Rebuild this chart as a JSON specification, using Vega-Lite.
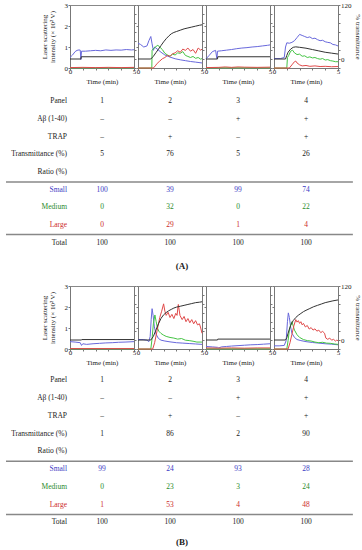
{
"$schema": "https://vega.github.io/schema/vega-lite/v6.json",
"padding": {"left": 5, "top": 0, "right": 2, "bottom": 0},
"columns": 4,
"spacing": {"row": 16, "column": 4},
"bounds": "flush",
"config": {
  "font": "Liberation Serif",
  "view": {"stroke": null},
  "axis": {"grid": false, "labelFont": "Liberation Serif", "titleFont": "Liberation Serif", "labelFontSize": 7, "titleFontSize": 7, "titleFontWeight": "normal", "labelColor": "#222", "titleColor": "#222", "domainColor": "#777", "tickColor": "#777", "tickSize": 2},
  "text": {"font": "Liberation Serif", "fontSize": 7.5}
},
"datasets": {
"lbl": [{"r":0,"l":"Panel","g":"k"},{"r":1,"l":"Aβ (1-40)","g":"k"},{"r":2,"l":"TRAP","g":"k"},{"r":3,"l":"Transmittance (%)","g":"k"},{"r":4,"l":"Ratio (%)","g":"k"},{"r":5,"l":"Small","g":"Small"},{"r":6,"l":"Medium","g":"Medium"},{"r":7,"l":"Large","g":"Large"},{"r":8,"l":"Total","g":"k"}],
"tbl": [
{"b":"A","r":0,"p":1,"v":"1","g":"k"},{"b":"A","r":0,"p":2,"v":"2","g":"k"},{"b":"A","r":0,"p":3,"v":"3","g":"k"},{"b":"A","r":0,"p":4,"v":"4","g":"k"},
{"b":"A","r":1,"p":1,"v":"–","g":"k"},{"b":"A","r":1,"p":2,"v":"–","g":"k"},{"b":"A","r":1,"p":3,"v":"+","g":"k"},{"b":"A","r":1,"p":4,"v":"+","g":"k"},
{"b":"A","r":2,"p":1,"v":"–","g":"k"},{"b":"A","r":2,"p":2,"v":"+","g":"k"},{"b":"A","r":2,"p":3,"v":"–","g":"k"},{"b":"A","r":2,"p":4,"v":"+","g":"k"},
{"b":"A","r":3,"p":1,"v":"5","g":"k"},{"b":"A","r":3,"p":2,"v":"76","g":"k"},{"b":"A","r":3,"p":3,"v":"5","g":"k"},{"b":"A","r":3,"p":4,"v":"26","g":"k"},
{"b":"A","r":5,"p":1,"v":"100","g":"Small"},{"b":"A","r":5,"p":2,"v":"39","g":"Small"},{"b":"A","r":5,"p":3,"v":"99","g":"Small"},{"b":"A","r":5,"p":4,"v":"74","g":"Small"},
{"b":"A","r":6,"p":1,"v":"0","g":"Medium"},{"b":"A","r":6,"p":2,"v":"32","g":"Medium"},{"b":"A","r":6,"p":3,"v":"0","g":"Medium"},{"b":"A","r":6,"p":4,"v":"22","g":"Medium"},
{"b":"A","r":7,"p":1,"v":"0","g":"Large"},{"b":"A","r":7,"p":2,"v":"29","g":"Large"},{"b":"A","r":7,"p":3,"v":"1","g":"Large"},{"b":"A","r":7,"p":4,"v":"4","g":"Large"},
{"b":"A","r":8,"p":1,"v":"100","g":"k"},{"b":"A","r":8,"p":2,"v":"100","g":"k"},{"b":"A","r":8,"p":3,"v":"100","g":"k"},{"b":"A","r":8,"p":4,"v":"100","g":"k"},
{"b":"B","r":0,"p":1,"v":"1","g":"k"},{"b":"B","r":0,"p":2,"v":"2","g":"k"},{"b":"B","r":0,"p":3,"v":"3","g":"k"},{"b":"B","r":0,"p":4,"v":"4","g":"k"},
{"b":"B","r":1,"p":1,"v":"–","g":"k"},{"b":"B","r":1,"p":2,"v":"–","g":"k"},{"b":"B","r":1,"p":3,"v":"+","g":"k"},{"b":"B","r":1,"p":4,"v":"+","g":"k"},
{"b":"B","r":2,"p":1,"v":"–","g":"k"},{"b":"B","r":2,"p":2,"v":"+","g":"k"},{"b":"B","r":2,"p":3,"v":"–","g":"k"},{"b":"B","r":2,"p":4,"v":"+","g":"k"},
{"b":"B","r":3,"p":1,"v":"1","g":"k"},{"b":"B","r":3,"p":2,"v":"86","g":"k"},{"b":"B","r":3,"p":3,"v":"2","g":"k"},{"b":"B","r":3,"p":4,"v":"90","g":"k"},
{"b":"B","r":5,"p":1,"v":"99","g":"Small"},{"b":"B","r":5,"p":2,"v":"24","g":"Small"},{"b":"B","r":5,"p":3,"v":"93","g":"Small"},{"b":"B","r":5,"p":4,"v":"28","g":"Small"},
{"b":"B","r":6,"p":1,"v":"0","g":"Medium"},{"b":"B","r":6,"p":2,"v":"23","g":"Medium"},{"b":"B","r":6,"p":3,"v":"3","g":"Medium"},{"b":"B","r":6,"p":4,"v":"24","g":"Medium"},
{"b":"B","r":7,"p":1,"v":"1","g":"Large"},{"b":"B","r":7,"p":2,"v":"53","g":"Large"},{"b":"B","r":7,"p":3,"v":"4","g":"Large"},{"b":"B","r":7,"p":4,"v":"48","g":"Large"},
{"b":"B","r":8,"p":1,"v":"100","g":"k"},{"b":"B","r":8,"p":2,"v":"100","g":"k"},{"b":"B","r":8,"p":3,"v":"100","g":"k"},{"b":"B","r":8,"p":4,"v":"100","g":"k"}
],
"trans": [
{"b":"A","p":1,"t":0,"v":0},{"b":"A","p":1,"t":0.85,"v":0},{"b":"A","p":1,"t":0.88,"v":5},{"b":"A","p":1,"t":5,"v":5},
{"b":"A","p":2,"t":0,"v":0},{"b":"A","p":2,"t":1.0,"v":0},{"b":"A","p":2,"t":1.2,"v":6},{"b":"A","p":2,"t":1.4,"v":14},{"b":"A","p":2,"t":1.6,"v":22},{"b":"A","p":2,"t":1.8,"v":30},{"b":"A","p":2,"t":2.0,"v":38},{"b":"A","p":2,"t":2.2,"v":45},{"b":"A","p":2,"t":2.4,"v":51},{"b":"A","p":2,"t":2.6,"v":56},{"b":"A","p":2,"t":2.8,"v":59},{"b":"A","p":2,"t":3.0,"v":61},{"b":"A","p":2,"t":3.3,"v":64},{"b":"A","p":2,"t":3.6,"v":67},{"b":"A","p":2,"t":3.9,"v":69},{"b":"A","p":2,"t":4.2,"v":71},{"b":"A","p":2,"t":4.5,"v":73},{"b":"A","p":2,"t":4.8,"v":75},{"b":"A","p":2,"t":5.0,"v":76},
{"b":"A","p":3,"t":0,"v":0},{"b":"A","p":3,"t":0.9,"v":0},{"b":"A","p":3,"t":0.92,"v":5},{"b":"A","p":3,"t":5,"v":5},
{"b":"A","p":4,"t":0,"v":0},{"b":"A","p":4,"t":0.9,"v":0},{"b":"A","p":4,"t":1.0,"v":8},{"b":"A","p":4,"t":1.1,"v":15},{"b":"A","p":4,"t":1.3,"v":22},{"b":"A","p":4,"t":1.5,"v":26},{"b":"A","p":4,"t":1.7,"v":27},{"b":"A","p":4,"t":2.0,"v":26},{"b":"A","p":4,"t":2.5,"v":24},{"b":"A","p":4,"t":3.0,"v":21},{"b":"A","p":4,"t":3.5,"v":18},{"b":"A","p":4,"t":4.0,"v":15},{"b":"A","p":4,"t":4.5,"v":13},{"b":"A","p":4,"t":5.0,"v":11},
{"b":"B","p":1,"t":0,"v":0},{"b":"B","p":1,"t":0.9,"v":0},{"b":"B","p":1,"t":0.92,"v":1},{"b":"B","p":1,"t":5,"v":1},
{"b":"B","p":2,"t":0,"v":0},{"b":"B","p":2,"t":1.0,"v":0},{"b":"B","p":2,"t":1.2,"v":8},{"b":"B","p":2,"t":1.4,"v":22},{"b":"B","p":2,"t":1.6,"v":36},{"b":"B","p":2,"t":1.8,"v":48},{"b":"B","p":2,"t":2.0,"v":56},{"b":"B","p":2,"t":2.2,"v":61},{"b":"B","p":2,"t":2.4,"v":65},{"b":"B","p":2,"t":2.6,"v":68},{"b":"B","p":2,"t":2.8,"v":71},{"b":"B","p":2,"t":3.0,"v":73},{"b":"B","p":2,"t":3.3,"v":75},{"b":"B","p":2,"t":3.6,"v":77},{"b":"B","p":2,"t":3.9,"v":79},{"b":"B","p":2,"t":4.2,"v":81},{"b":"B","p":2,"t":4.5,"v":83},{"b":"B","p":2,"t":4.8,"v":84},{"b":"B","p":2,"t":5.0,"v":85},
{"b":"B","p":3,"t":0,"v":0},{"b":"B","p":3,"t":0.9,"v":0},{"b":"B","p":3,"t":0.92,"v":2},{"b":"B","p":3,"t":5,"v":2},
{"b":"B","p":4,"t":0,"v":0},{"b":"B","p":4,"t":0.9,"v":0},{"b":"B","p":4,"t":1.0,"v":5},{"b":"B","p":4,"t":1.1,"v":15},{"b":"B","p":4,"t":1.2,"v":24},{"b":"B","p":4,"t":1.3,"v":32},{"b":"B","p":4,"t":1.4,"v":38},{"b":"B","p":4,"t":1.5,"v":43},{"b":"B","p":4,"t":1.7,"v":50},{"b":"B","p":4,"t":1.9,"v":55},{"b":"B","p":4,"t":2.1,"v":59},{"b":"B","p":4,"t":2.3,"v":63},{"b":"B","p":4,"t":2.5,"v":66},{"b":"B","p":4,"t":2.8,"v":70},{"b":"B","p":4,"t":3.1,"v":74},{"b":"B","p":4,"t":3.4,"v":77},{"b":"B","p":4,"t":3.7,"v":80},{"b":"B","p":4,"t":4.0,"v":83},{"b":"B","p":4,"t":4.3,"v":85},{"b":"B","p":4,"t":4.6,"v":87},{"b":"B","p":4,"t":5.0,"v":89}
],
"lines": [
{"b":"A","p":1,"s":"Small","t":0,"v":0.5},{"b":"A","p":1,"s":"Small","t":0.2,"v":0.62},{"b":"A","p":1,"s":"Small","t":0.4,"v":0.78},{"b":"A","p":1,"s":"Small","t":0.55,"v":0.84},{"b":"A","p":1,"s":"Small","t":0.7,"v":0.86},{"b":"A","p":1,"s":"Small","t":0.8,"v":0.85},{"b":"A","p":1,"s":"Small","t":0.85,"v":0.4},{"b":"A","p":1,"s":"Small","t":0.9,"v":0.8},{"b":"A","p":1,"s":"Small","t":1.2,"v":0.8},{"b":"A","p":1,"s":"Small","t":1.6,"v":0.82},{"b":"A","p":1,"s":"Small","t":2.0,"v":0.84},{"b":"A","p":1,"s":"Small","t":2.4,"v":0.82},{"b":"A","p":1,"s":"Small","t":2.8,"v":0.86},{"b":"A","p":1,"s":"Small","t":3.2,"v":0.84},{"b":"A","p":1,"s":"Small","t":3.6,"v":0.86},{"b":"A","p":1,"s":"Small","t":4.0,"v":0.85},{"b":"A","p":1,"s":"Small","t":4.4,"v":0.88},{"b":"A","p":1,"s":"Small","t":4.8,"v":0.86},{"b":"A","p":1,"s":"Small","t":5.0,"v":0.87},
{"b":"A","p":1,"s":"Medium","t":0,"v":0.01},{"b":"A","p":1,"s":"Medium","t":5,"v":0.01},
{"b":"A","p":1,"s":"Large","t":0,"v":0.02},{"b":"A","p":1,"s":"Large","t":1,"v":0.03},{"b":"A","p":1,"s":"Large","t":2,"v":0.02},{"b":"A","p":1,"s":"Large","t":3,"v":0.03},{"b":"A","p":1,"s":"Large","t":4,"v":0.02},{"b":"A","p":1,"s":"Large","t":5,"v":0.03},
{"b":"A","p":2,"s":"Small","t":0,"v":1.18},{"b":"A","p":2,"s":"Small","t":0.2,"v":1.12},{"b":"A","p":2,"s":"Small","t":0.45,"v":1.0},{"b":"A","p":2,"s":"Small","t":0.7,"v":1.05},{"b":"A","p":2,"s":"Small","t":0.85,"v":1.3},{"b":"A","p":2,"s":"Small","t":1.0,"v":1.5},{"b":"A","p":2,"s":"Small","t":1.1,"v":1.15},{"b":"A","p":2,"s":"Small","t":1.2,"v":0.84},{"b":"A","p":2,"s":"Small","t":1.3,"v":1.0},{"b":"A","p":2,"s":"Small","t":1.5,"v":0.9},{"b":"A","p":2,"s":"Small","t":1.8,"v":0.75},{"b":"A","p":2,"s":"Small","t":2.1,"v":0.62},{"b":"A","p":2,"s":"Small","t":2.5,"v":0.52},{"b":"A","p":2,"s":"Small","t":2.9,"v":0.44},{"b":"A","p":2,"s":"Small","t":3.3,"v":0.39},{"b":"A","p":2,"s":"Small","t":3.7,"v":0.35},{"b":"A","p":2,"s":"Small","t":4.1,"v":0.31},{"b":"A","p":2,"s":"Small","t":4.5,"v":0.28},{"b":"A","p":2,"s":"Small","t":5.0,"v":0.24},
{"b":"A","p":2,"s":"Medium","t":0,"v":0},{"b":"A","p":2,"s":"Medium","t":1.08,"v":0},{"b":"A","p":2,"s":"Medium","t":1.1,"v":0.85},{"b":"A","p":2,"s":"Medium","t":1.25,"v":0.95},{"b":"A","p":2,"s":"Medium","t":1.4,"v":1.02},{"b":"A","p":2,"s":"Medium","t":1.55,"v":1.08},{"b":"A","p":2,"s":"Medium","t":1.7,"v":1.0},{"b":"A","p":2,"s":"Medium","t":1.9,"v":0.88},{"b":"A","p":2,"s":"Medium","t":2.1,"v":0.7},{"b":"A","p":2,"s":"Medium","t":2.3,"v":0.62},{"b":"A","p":2,"s":"Medium","t":2.5,"v":0.56},{"b":"A","p":2,"s":"Medium","t":2.7,"v":0.66},{"b":"A","p":2,"s":"Medium","t":2.9,"v":0.62},{"b":"A","p":2,"s":"Medium","t":3.1,"v":0.72},{"b":"A","p":2,"s":"Medium","t":3.3,"v":0.7},{"b":"A","p":2,"s":"Medium","t":3.5,"v":0.78},{"b":"A","p":2,"s":"Medium","t":3.7,"v":0.6},{"b":"A","p":2,"s":"Medium","t":3.9,"v":0.55},{"b":"A","p":2,"s":"Medium","t":4.1,"v":0.5},{"b":"A","p":2,"s":"Medium","t":4.3,"v":0.55},{"b":"A","p":2,"s":"Medium","t":4.5,"v":0.46},{"b":"A","p":2,"s":"Medium","t":4.7,"v":0.5},{"b":"A","p":2,"s":"Medium","t":4.9,"v":0.42},{"b":"A","p":2,"s":"Medium","t":5.0,"v":0.45},
{"b":"A","p":2,"s":"Large","t":0,"v":0},{"b":"A","p":2,"s":"Large","t":1.2,"v":0},{"b":"A","p":2,"s":"Large","t":1.35,"v":0.1},{"b":"A","p":2,"s":"Large","t":1.5,"v":0.22},{"b":"A","p":2,"s":"Large","t":1.7,"v":0.33},{"b":"A","p":2,"s":"Large","t":1.9,"v":0.44},{"b":"A","p":2,"s":"Large","t":2.1,"v":0.5},{"b":"A","p":2,"s":"Large","t":2.3,"v":0.6},{"b":"A","p":2,"s":"Large","t":2.5,"v":0.55},{"b":"A","p":2,"s":"Large","t":2.7,"v":0.68},{"b":"A","p":2,"s":"Large","t":2.9,"v":0.72},{"b":"A","p":2,"s":"Large","t":3.1,"v":0.82},{"b":"A","p":2,"s":"Large","t":3.3,"v":0.75},{"b":"A","p":2,"s":"Large","t":3.5,"v":0.9},{"b":"A","p":2,"s":"Large","t":3.7,"v":0.84},{"b":"A","p":2,"s":"Large","t":3.9,"v":0.95},{"b":"A","p":2,"s":"Large","t":4.1,"v":0.8},{"b":"A","p":2,"s":"Large","t":4.3,"v":0.88},{"b":"A","p":2,"s":"Large","t":4.5,"v":0.7},{"b":"A","p":2,"s":"Large","t":4.7,"v":0.95},{"b":"A","p":2,"s":"Large","t":4.9,"v":0.85},{"b":"A","p":2,"s":"Large","t":5.0,"v":0.9},
{"b":"A","p":3,"s":"Small","t":0,"v":0.44},{"b":"A","p":3,"s":"Small","t":0.25,"v":0.6},{"b":"A","p":3,"s":"Small","t":0.5,"v":0.78},{"b":"A","p":3,"s":"Small","t":0.75,"v":0.84},{"b":"A","p":3,"s":"Small","t":0.85,"v":0.44},{"b":"A","p":3,"s":"Small","t":0.9,"v":0.8},{"b":"A","p":3,"s":"Small","t":1.2,"v":0.82},{"b":"A","p":3,"s":"Small","t":1.6,"v":0.85},{"b":"A","p":3,"s":"Small","t":2.0,"v":0.88},{"b":"A","p":3,"s":"Small","t":2.4,"v":0.92},{"b":"A","p":3,"s":"Small","t":2.8,"v":0.95},{"b":"A","p":3,"s":"Small","t":3.2,"v":0.97},{"b":"A","p":3,"s":"Small","t":3.6,"v":1.0},{"b":"A","p":3,"s":"Small","t":4.0,"v":1.02},{"b":"A","p":3,"s":"Small","t":4.4,"v":1.05},{"b":"A","p":3,"s":"Small","t":4.8,"v":1.08},{"b":"A","p":3,"s":"Small","t":5.0,"v":1.1},
{"b":"A","p":3,"s":"Medium","t":0,"v":0.01},{"b":"A","p":3,"s":"Medium","t":5,"v":0.01},
{"b":"A","p":3,"s":"Large","t":0,"v":0.02},{"b":"A","p":3,"s":"Large","t":1,"v":0.03},{"b":"A","p":3,"s":"Large","t":1.5,"v":0.05},{"b":"A","p":3,"s":"Large","t":2,"v":0.03},{"b":"A","p":3,"s":"Large","t":2.5,"v":0.05},{"b":"A","p":3,"s":"Large","t":3,"v":0.04},{"b":"A","p":3,"s":"Large","t":4,"v":0.03},{"b":"A","p":3,"s":"Large","t":5,"v":0.04},
{"b":"A","p":4,"s":"Small","t":0,"v":0.45},{"b":"A","p":4,"s":"Small","t":0.5,"v":0.45},{"b":"A","p":4,"s":"Small","t":0.8,"v":0.5},{"b":"A","p":4,"s":"Small","t":0.9,"v":1.0},{"b":"A","p":4,"s":"Small","t":1.0,"v":1.2},{"b":"A","p":4,"s":"Small","t":1.2,"v":1.18},{"b":"A","p":4,"s":"Small","t":1.4,"v":1.22},{"b":"A","p":4,"s":"Small","t":1.6,"v":1.3},{"b":"A","p":4,"s":"Small","t":1.8,"v":1.45},{"b":"A","p":4,"s":"Small","t":2.0,"v":1.6},{"b":"A","p":4,"s":"Small","t":2.2,"v":1.55},{"b":"A","p":4,"s":"Small","t":2.4,"v":1.5},{"b":"A","p":4,"s":"Small","t":2.6,"v":1.45},{"b":"A","p":4,"s":"Small","t":2.8,"v":1.48},{"b":"A","p":4,"s":"Small","t":3.0,"v":1.4},{"b":"A","p":4,"s":"Small","t":3.2,"v":1.42},{"b":"A","p":4,"s":"Small","t":3.4,"v":1.35},{"b":"A","p":4,"s":"Small","t":3.6,"v":1.3},{"b":"A","p":4,"s":"Small","t":3.8,"v":1.32},{"b":"A","p":4,"s":"Small","t":4.0,"v":1.25},{"b":"A","p":4,"s":"Small","t":4.2,"v":1.22},{"b":"A","p":4,"s":"Small","t":4.4,"v":1.2},{"b":"A","p":4,"s":"Small","t":4.6,"v":1.12},{"b":"A","p":4,"s":"Small","t":4.8,"v":1.1},{"b":"A","p":4,"s":"Small","t":5.0,"v":1.05},
{"b":"A","p":4,"s":"Medium","t":0,"v":0},{"b":"A","p":4,"s":"Medium","t":1.0,"v":0},{"b":"A","p":4,"s":"Medium","t":1.05,"v":0.5},{"b":"A","p":4,"s":"Medium","t":1.15,"v":0.6},{"b":"A","p":4,"s":"Medium","t":1.3,"v":0.8},{"b":"A","p":4,"s":"Medium","t":1.45,"v":0.85},{"b":"A","p":4,"s":"Medium","t":1.6,"v":0.72},{"b":"A","p":4,"s":"Medium","t":1.8,"v":0.64},{"b":"A","p":4,"s":"Medium","t":2.0,"v":0.66},{"b":"A","p":4,"s":"Medium","t":2.2,"v":0.56},{"b":"A","p":4,"s":"Medium","t":2.4,"v":0.58},{"b":"A","p":4,"s":"Medium","t":2.6,"v":0.5},{"b":"A","p":4,"s":"Medium","t":2.8,"v":0.53},{"b":"A","p":4,"s":"Medium","t":3.0,"v":0.48},{"b":"A","p":4,"s":"Medium","t":3.2,"v":0.5},{"b":"A","p":4,"s":"Medium","t":3.4,"v":0.45},{"b":"A","p":4,"s":"Medium","t":3.6,"v":0.42},{"b":"A","p":4,"s":"Medium","t":3.8,"v":0.45},{"b":"A","p":4,"s":"Medium","t":4.0,"v":0.38},{"b":"A","p":4,"s":"Medium","t":4.2,"v":0.4},{"b":"A","p":4,"s":"Medium","t":4.4,"v":0.35},{"b":"A","p":4,"s":"Medium","t":4.6,"v":0.33},{"b":"A","p":4,"s":"Medium","t":4.8,"v":0.3},{"b":"A","p":4,"s":"Medium","t":5.0,"v":0.3},
{"b":"A","p":4,"s":"Large","t":0,"v":0},{"b":"A","p":4,"s":"Large","t":1.2,"v":0},{"b":"A","p":4,"s":"Large","t":1.4,"v":0.15},{"b":"A","p":4,"s":"Large","t":1.6,"v":0.3},{"b":"A","p":4,"s":"Large","t":1.7,"v":0.33},{"b":"A","p":4,"s":"Large","t":1.8,"v":0.24},{"b":"A","p":4,"s":"Large","t":2.0,"v":0.15},{"b":"A","p":4,"s":"Large","t":2.2,"v":0.1},{"b":"A","p":4,"s":"Large","t":2.5,"v":0.12},{"b":"A","p":4,"s":"Large","t":2.8,"v":0.08},{"b":"A","p":4,"s":"Large","t":3.2,"v":0.1},{"b":"A","p":4,"s":"Large","t":3.6,"v":0.07},{"b":"A","p":4,"s":"Large","t":4.0,"v":0.08},{"b":"A","p":4,"s":"Large","t":4.5,"v":0.06},{"b":"A","p":4,"s":"Large","t":5.0,"v":0.07},
{"b":"B","p":1,"s":"Small","t":0,"v":0.35},{"b":"B","p":1,"s":"Small","t":0.4,"v":0.33},{"b":"B","p":1,"s":"Small","t":0.8,"v":0.3},{"b":"B","p":1,"s":"Small","t":0.9,"v":0.17},{"b":"B","p":1,"s":"Small","t":1.0,"v":0.25},{"b":"B","p":1,"s":"Small","t":1.3,"v":0.22},{"b":"B","p":1,"s":"Small","t":1.8,"v":0.25},{"b":"B","p":1,"s":"Small","t":2.3,"v":0.27},{"b":"B","p":1,"s":"Small","t":2.8,"v":0.29},{"b":"B","p":1,"s":"Small","t":3.3,"v":0.3},{"b":"B","p":1,"s":"Small","t":3.8,"v":0.32},{"b":"B","p":1,"s":"Small","t":4.3,"v":0.33},{"b":"B","p":1,"s":"Small","t":5.0,"v":0.35},
{"b":"B","p":1,"s":"Medium","t":0,"v":0.01},{"b":"B","p":1,"s":"Medium","t":5,"v":0.01},
{"b":"B","p":1,"s":"Large","t":0,"v":0.02},{"b":"B","p":1,"s":"Large","t":5,"v":0.02},
{"b":"B","p":2,"s":"Small","t":0,"v":0.45},{"b":"B","p":2,"s":"Small","t":0.4,"v":0.45},{"b":"B","p":2,"s":"Small","t":0.7,"v":0.42},{"b":"B","p":2,"s":"Small","t":0.85,"v":0.35},{"b":"B","p":2,"s":"Small","t":0.95,"v":0.6},{"b":"B","p":2,"s":"Small","t":1.03,"v":1.4},{"b":"B","p":2,"s":"Small","t":1.1,"v":1.92},{"b":"B","p":2,"s":"Small","t":1.18,"v":1.6},{"b":"B","p":2,"s":"Small","t":1.28,"v":1.05},{"b":"B","p":2,"s":"Small","t":1.4,"v":0.72},{"b":"B","p":2,"s":"Small","t":1.6,"v":0.5},{"b":"B","p":2,"s":"Small","t":1.8,"v":0.42},{"b":"B","p":2,"s":"Small","t":2.1,"v":0.38},{"b":"B","p":2,"s":"Small","t":2.5,"v":0.34},{"b":"B","p":2,"s":"Small","t":3.0,"v":0.3},{"b":"B","p":2,"s":"Small","t":3.5,"v":0.28},{"b":"B","p":2,"s":"Small","t":4.0,"v":0.26},{"b":"B","p":2,"s":"Small","t":4.5,"v":0.24},{"b":"B","p":2,"s":"Small","t":5.0,"v":0.22},
{"b":"B","p":2,"s":"Medium","t":0,"v":0},{"b":"B","p":2,"s":"Medium","t":1.0,"v":0},{"b":"B","p":2,"s":"Medium","t":1.1,"v":0.5},{"b":"B","p":2,"s":"Medium","t":1.2,"v":1.2},{"b":"B","p":2,"s":"Medium","t":1.32,"v":1.62},{"b":"B","p":2,"s":"Medium","t":1.42,"v":1.3},{"b":"B","p":2,"s":"Medium","t":1.52,"v":1.0},{"b":"B","p":2,"s":"Medium","t":1.62,"v":0.85},{"b":"B","p":2,"s":"Medium","t":1.8,"v":0.74},{"b":"B","p":2,"s":"Medium","t":2.0,"v":0.66},{"b":"B","p":2,"s":"Medium","t":2.2,"v":0.6},{"b":"B","p":2,"s":"Medium","t":2.5,"v":0.55},{"b":"B","p":2,"s":"Medium","t":2.8,"v":0.52},{"b":"B","p":2,"s":"Medium","t":3.1,"v":0.47},{"b":"B","p":2,"s":"Medium","t":3.4,"v":0.5},{"b":"B","p":2,"s":"Medium","t":3.7,"v":0.42},{"b":"B","p":2,"s":"Medium","t":4.0,"v":0.4},{"b":"B","p":2,"s":"Medium","t":4.3,"v":0.37},{"b":"B","p":2,"s":"Medium","t":4.6,"v":0.33},{"b":"B","p":2,"s":"Medium","t":5.0,"v":0.33},
{"b":"B","p":2,"s":"Large","t":0,"v":0},{"b":"B","p":2,"s":"Large","t":1.15,"v":0},{"b":"B","p":2,"s":"Large","t":1.3,"v":0.3},{"b":"B","p":2,"s":"Large","t":1.5,"v":0.9},{"b":"B","p":2,"s":"Large","t":1.7,"v":1.5},{"b":"B","p":2,"s":"Large","t":1.85,"v":1.8},{"b":"B","p":2,"s":"Large","t":2.0,"v":2.15},{"b":"B","p":2,"s":"Large","t":2.1,"v":1.8},{"b":"B","p":2,"s":"Large","t":2.2,"v":1.6},{"b":"B","p":2,"s":"Large","t":2.35,"v":1.75},{"b":"B","p":2,"s":"Large","t":2.5,"v":1.5},{"b":"B","p":2,"s":"Large","t":2.65,"v":1.65},{"b":"B","p":2,"s":"Large","t":2.8,"v":1.45},{"b":"B","p":2,"s":"Large","t":2.95,"v":1.7},{"b":"B","p":2,"s":"Large","t":3.05,"v":1.6},{"b":"B","p":2,"s":"Large","t":3.15,"v":2.12},{"b":"B","p":2,"s":"Large","t":3.28,"v":1.6},{"b":"B","p":2,"s":"Large","t":3.45,"v":1.4},{"b":"B","p":2,"s":"Large","t":3.6,"v":1.55},{"b":"B","p":2,"s":"Large","t":3.75,"v":1.3},{"b":"B","p":2,"s":"Large","t":3.9,"v":1.45},{"b":"B","p":2,"s":"Large","t":4.05,"v":1.25},{"b":"B","p":2,"s":"Large","t":4.2,"v":1.4},{"b":"B","p":2,"s":"Large","t":4.35,"v":1.2},{"b":"B","p":2,"s":"Large","t":4.5,"v":1.35},{"b":"B","p":2,"s":"Large","t":4.65,"v":1.15},{"b":"B","p":2,"s":"Large","t":4.8,"v":1.2},{"b":"B","p":2,"s":"Large","t":4.9,"v":1.0},{"b":"B","p":2,"s":"Large","t":5.0,"v":0.75},
{"b":"B","p":3,"s":"Small","t":0,"v":0.12},{"b":"B","p":3,"s":"Small","t":0.5,"v":0.1},{"b":"B","p":3,"s":"Small","t":0.9,"v":0.08},{"b":"B","p":3,"s":"Small","t":1.0,"v":0.05},{"b":"B","p":3,"s":"Small","t":1.2,"v":0.1},{"b":"B","p":3,"s":"Small","t":1.6,"v":0.12},{"b":"B","p":3,"s":"Small","t":2.0,"v":0.14},{"b":"B","p":3,"s":"Small","t":2.5,"v":0.16},{"b":"B","p":3,"s":"Small","t":3.0,"v":0.18},{"b":"B","p":3,"s":"Small","t":3.5,"v":0.2},{"b":"B","p":3,"s":"Small","t":4.0,"v":0.21},{"b":"B","p":3,"s":"Small","t":4.5,"v":0.23},{"b":"B","p":3,"s":"Small","t":5.0,"v":0.25},
{"b":"B","p":3,"s":"Medium","t":0,"v":0.01},{"b":"B","p":3,"s":"Medium","t":5,"v":0.01},
{"b":"B","p":3,"s":"Large","t":0,"v":0.05},{"b":"B","p":3,"s":"Large","t":1,"v":0.04},{"b":"B","p":3,"s":"Large","t":2,"v":0.05},{"b":"B","p":3,"s":"Large","t":3,"v":0.04},{"b":"B","p":3,"s":"Large","t":4,"v":0.05},{"b":"B","p":3,"s":"Large","t":5,"v":0.05},
{"b":"B","p":4,"s":"Small","t":0,"v":0.15},{"b":"B","p":4,"s":"Small","t":0.4,"v":0.15},{"b":"B","p":4,"s":"Small","t":0.8,"v":0.17},{"b":"B","p":4,"s":"Small","t":0.95,"v":0.4},{"b":"B","p":4,"s":"Small","t":1.05,"v":1.3},{"b":"B","p":4,"s":"Small","t":1.12,"v":1.72},{"b":"B","p":4,"s":"Small","t":1.2,"v":1.5},{"b":"B","p":4,"s":"Small","t":1.3,"v":1.05},{"b":"B","p":4,"s":"Small","t":1.4,"v":0.75},{"b":"B","p":4,"s":"Small","t":1.6,"v":0.55},{"b":"B","p":4,"s":"Small","t":1.8,"v":0.45},{"b":"B","p":4,"s":"Small","t":2.1,"v":0.4},{"b":"B","p":4,"s":"Small","t":2.5,"v":0.35},{"b":"B","p":4,"s":"Small","t":3.0,"v":0.31},{"b":"B","p":4,"s":"Small","t":3.5,"v":0.28},{"b":"B","p":4,"s":"Small","t":4.0,"v":0.25},{"b":"B","p":4,"s":"Small","t":4.5,"v":0.23},{"b":"B","p":4,"s":"Small","t":5.0,"v":0.2},
{"b":"B","p":4,"s":"Medium","t":0,"v":0},{"b":"B","p":4,"s":"Medium","t":1.0,"v":0},{"b":"B","p":4,"s":"Medium","t":1.1,"v":0.4},{"b":"B","p":4,"s":"Medium","t":1.2,"v":0.9},{"b":"B","p":4,"s":"Medium","t":1.3,"v":1.15},{"b":"B","p":4,"s":"Medium","t":1.4,"v":1.3},{"b":"B","p":4,"s":"Medium","t":1.5,"v":1.1},{"b":"B","p":4,"s":"Medium","t":1.6,"v":0.9},{"b":"B","p":4,"s":"Medium","t":1.8,"v":0.68},{"b":"B","p":4,"s":"Medium","t":2.0,"v":0.55},{"b":"B","p":4,"s":"Medium","t":2.3,"v":0.45},{"b":"B","p":4,"s":"Medium","t":2.6,"v":0.4},{"b":"B","p":4,"s":"Medium","t":2.9,"v":0.38},{"b":"B","p":4,"s":"Medium","t":3.2,"v":0.33},{"b":"B","p":4,"s":"Medium","t":3.5,"v":0.3},{"b":"B","p":4,"s":"Medium","t":3.8,"v":0.32},{"b":"B","p":4,"s":"Medium","t":4.1,"v":0.28},{"b":"B","p":4,"s":"Medium","t":4.4,"v":0.27},{"b":"B","p":4,"s":"Medium","t":4.7,"v":0.24},{"b":"B","p":4,"s":"Medium","t":5.0,"v":0.22},
{"b":"B","p":4,"s":"Large","t":0,"v":0},{"b":"B","p":4,"s":"Large","t":1.1,"v":0},{"b":"B","p":4,"s":"Large","t":1.25,"v":0.3},{"b":"B","p":4,"s":"Large","t":1.4,"v":0.7},{"b":"B","p":4,"s":"Large","t":1.55,"v":1.1},{"b":"B","p":4,"s":"Large","t":1.7,"v":1.4},{"b":"B","p":4,"s":"Large","t":1.8,"v":1.28},{"b":"B","p":4,"s":"Large","t":1.9,"v":1.35},{"b":"B","p":4,"s":"Large","t":2.0,"v":1.22},{"b":"B","p":4,"s":"Large","t":2.1,"v":1.3},{"b":"B","p":4,"s":"Large","t":2.2,"v":1.15},{"b":"B","p":4,"s":"Large","t":2.3,"v":1.22},{"b":"B","p":4,"s":"Large","t":2.45,"v":1.05},{"b":"B","p":4,"s":"Large","t":2.6,"v":1.12},{"b":"B","p":4,"s":"Large","t":2.75,"v":0.95},{"b":"B","p":4,"s":"Large","t":2.9,"v":1.02},{"b":"B","p":4,"s":"Large","t":3.05,"v":0.9},{"b":"B","p":4,"s":"Large","t":3.2,"v":0.96},{"b":"B","p":4,"s":"Large","t":3.35,"v":0.85},{"b":"B","p":4,"s":"Large","t":3.5,"v":0.9},{"b":"B","p":4,"s":"Large","t":3.65,"v":0.78},{"b":"B","p":4,"s":"Large","t":3.8,"v":0.84},{"b":"B","p":4,"s":"Large","t":3.95,"v":0.75},{"b":"B","p":4,"s":"Large","t":4.05,"v":0.52},{"b":"B","p":4,"s":"Large","t":4.2,"v":0.46},{"b":"B","p":4,"s":"Large","t":4.35,"v":0.52},{"b":"B","p":4,"s":"Large","t":4.5,"v":0.42},{"b":"B","p":4,"s":"Large","t":4.65,"v":0.46},{"b":"B","p":4,"s":"Large","t":4.8,"v":0.38},{"b":"B","p":4,"s":"Large","t":4.9,"v":0.42},{"b":"B","p":4,"s":"Large","t":5.0,"v":0.4}
]
},
"concat": [
{"width":64,"height":63,"view":{"stroke":"#888"},"layer":[
 {"data":{"name":"lines"},"transform":[{"filter":"datum.b=='A'&&datum.p==1"}],"mark":{"type":"line","strokeWidth":1},
  "encoding":{"x":{"field":"t","type":"quantitative","scale":{"domain":[0,5],"nice":false},"axis":{"title":"Time (min)","values":[0,1,2,3,4,5],"labelExpr":"datum.value==0||datum.value==5?datum.label:''","labelFlush":false,"labelOverlap":false,"labelBaseline":"middle","labelPadding":1.5,"titlePadding":3}},
  "y":{"field":"v","type":"quantitative","scale":{"domain":[0,3],"nice":false},"axis":{"title":["Laser scattering","intensity (× 10² V)"],"values":[0,1,2,3],"labelPadding":0.5,"titlePadding":9,"titleLineHeight":7.5}},
  "color":{"field":"s","type":"nominal","scale":{"domain":["Small","Medium","Large"],"range":["#6868dc","#44c444","#e04a4a"]},"legend":null}}},
 {"data":{"name":"trans"},"transform":[{"filter":"datum.b=='A'&&datum.p==1"}],"mark":{"type":"line","strokeWidth":1,"color":"#333"},
  "encoding":{"x":{"field":"t","type":"quantitative","scale":{"domain":[0,5],"nice":false},"axis":{"title":"Time (min)","values":[0,1,2,3,4,5],"labelExpr":"datum.value==0||datum.value==5?datum.label:''","labelFlush":false,"labelOverlap":false,"labelBaseline":"middle","labelPadding":1.5,"titlePadding":3}},
  "y":{"field":"v","type":"quantitative","scale":{"domain":[-20,120],"nice":false},"axis":{"orient":"right","title":null,"labels":false,"values":[-20,0,20,40,60,80,100,120]}}}}
],"resolve":{"scale":{"y":"independent"}}},
{"width":64,"height":63,"view":{"stroke":"#888"},"layer":[
 {"data":{"name":"lines"},"transform":[{"filter":"datum.b=='A'&&datum.p==2"}],"mark":{"type":"line","strokeWidth":1},
  "encoding":{"x":{"field":"t","type":"quantitative","scale":{"domain":[0,5],"nice":false},"axis":{"title":"Time (min)","values":[0,1,2,3,4,5],"labelExpr":"datum.value==0||datum.value==5?datum.label:''","labelFlush":false,"labelOverlap":false,"labelBaseline":"middle","labelPadding":1.5,"titlePadding":3}},
  "y":{"field":"v","type":"quantitative","scale":{"domain":[0,3],"nice":false},"axis":{"title":null,"labels":false,"values":[0,1,2,3]}},
  "color":{"field":"s","type":"nominal","scale":{"domain":["Small","Medium","Large"],"range":["#6868dc","#44c444","#e04a4a"]},"legend":null}}},
 {"data":{"name":"trans"},"transform":[{"filter":"datum.b=='A'&&datum.p==2"}],"mark":{"type":"line","strokeWidth":1,"color":"#333"},
  "encoding":{"x":{"field":"t","type":"quantitative","scale":{"domain":[0,5],"nice":false},"axis":{"title":"Time (min)","values":[0,1,2,3,4,5],"labelExpr":"datum.value==0||datum.value==5?datum.label:''","labelFlush":false,"labelOverlap":false,"labelBaseline":"middle","labelPadding":1.5,"titlePadding":3}},
  "y":{"field":"v","type":"quantitative","scale":{"domain":[-20,120],"nice":false},"axis":{"orient":"right","title":null,"labels":false,"values":[-20,0,20,40,60,80,100,120]}}}}
],"resolve":{"scale":{"y":"independent"}}},
{"width":64,"height":63,"view":{"stroke":"#888"},"layer":[
 {"data":{"name":"lines"},"transform":[{"filter":"datum.b=='A'&&datum.p==3"}],"mark":{"type":"line","strokeWidth":1},
  "encoding":{"x":{"field":"t","type":"quantitative","scale":{"domain":[0,5],"nice":false},"axis":{"title":"Time (min)","values":[0,1,2,3,4,5],"labelExpr":"datum.value==0||datum.value==5?datum.label:''","labelFlush":false,"labelOverlap":false,"labelBaseline":"middle","labelPadding":1.5,"titlePadding":3}},
  "y":{"field":"v","type":"quantitative","scale":{"domain":[0,3],"nice":false},"axis":{"title":null,"labels":false,"values":[0,1,2,3]}},
  "color":{"field":"s","type":"nominal","scale":{"domain":["Small","Medium","Large"],"range":["#6868dc","#44c444","#e04a4a"]},"legend":null}}},
 {"data":{"name":"trans"},"transform":[{"filter":"datum.b=='A'&&datum.p==3"}],"mark":{"type":"line","strokeWidth":1,"color":"#333"},
  "encoding":{"x":{"field":"t","type":"quantitative","scale":{"domain":[0,5],"nice":false},"axis":{"title":"Time (min)","values":[0,1,2,3,4,5],"labelExpr":"datum.value==0||datum.value==5?datum.label:''","labelFlush":false,"labelOverlap":false,"labelBaseline":"middle","labelPadding":1.5,"titlePadding":3}},
  "y":{"field":"v","type":"quantitative","scale":{"domain":[-20,120],"nice":false},"axis":{"orient":"right","title":null,"labels":false,"values":[-20,0,20,40,60,80,100,120]}}}}
],"resolve":{"scale":{"y":"independent"}}},
{"width":64,"height":63,"view":{"stroke":"#888"},"layer":[
 {"data":{"name":"lines"},"transform":[{"filter":"datum.b=='A'&&datum.p==4"}],"mark":{"type":"line","strokeWidth":1},
  "encoding":{"x":{"field":"t","type":"quantitative","scale":{"domain":[0,5],"nice":false},"axis":{"title":"Time (min)","values":[0,1,2,3,4,5],"labelExpr":"datum.value==0||datum.value==5?datum.label:''","labelFlush":false,"labelOverlap":false,"labelBaseline":"middle","labelPadding":1.5,"titlePadding":3}},
  "y":{"field":"v","type":"quantitative","scale":{"domain":[0,3],"nice":false},"axis":{"title":null,"labels":false,"values":[0,1,2,3]}},
  "color":{"field":"s","type":"nominal","scale":{"domain":["Small","Medium","Large"],"range":["#6868dc","#44c444","#e04a4a"]},"legend":null}}},
 {"data":{"name":"trans"},"transform":[{"filter":"datum.b=='A'&&datum.p==4"}],"mark":{"type":"line","strokeWidth":1,"color":"#333"},
  "encoding":{"x":{"field":"t","type":"quantitative","scale":{"domain":[0,5],"nice":false},"axis":{"title":"Time (min)","values":[0,1,2,3,4,5],"labelExpr":"datum.value==0||datum.value==5?datum.label:''","labelFlush":false,"labelOverlap":false,"labelBaseline":"middle","labelPadding":1.5,"titlePadding":3}},
  "y":{"field":"v","type":"quantitative","scale":{"domain":[-20,120],"nice":false},"axis":{"orient":"right","title":"% transmittance","values":[-20,0,20,40,60,80,100,120],"labelExpr":"datum.value==0||datum.value==120?datum.label:''","labelOverlap":false,"labelPadding":0.5,"titlePadding":3}}}}
],"resolve":{"scale":{"y":"independent"}}},
{"width":64,"height":186,"view":{"stroke":null},"layer":[
 {"data":{"name":"tbl"},"transform":[{"filter":"datum.b=='A'&&datum.p==1"}],"mark":{"type":"text","baseline":"middle","fontSize":7.5},
  "encoding":{"x":{"datum":0.5,"type":"quantitative","scale":{"domain":[0,1],"nice":false,"zero":false},"axis":null},
  "y":{"field":"r","type":"quantitative","scale":{"domain":[-0.99,9.55],"reverse":true,"nice":false,"zero":false},"axis":null},
  "text":{"field":"v"},
  "color":{"condition":[{"test":"datum.g=='Small'","value":"#3b3bc4"},{"test":"datum.g=='Medium'","value":"#2c8a2c"},{"test":"datum.g=='Large'","value":"#cc2b2b"}],"value":"#222222"}}},
 {"data":{"name":"lbl"},"mark":{"type":"text","baseline":"middle","align":"right","fontSize":7.5},
  "encoding":{"x":{"datum":-0.047,"type":"quantitative"},"y":{"field":"r","type":"quantitative"},"text":{"field":"l"},
  "color":{"condition":[{"test":"datum.g=='Small'","value":"#3b3bc4"},{"test":"datum.g=='Medium'","value":"#2c8a2c"},{"test":"datum.g=='Large'","value":"#cc2b2b"}],"value":"#222222"}}},
 {"data":{"name":"lbl"},"transform":[{"filter":"datum.r==4"}],"mark":{"type":"rule","color":"#888","strokeWidth":1.5},
  "encoding":{"x":{"datum":-1,"type":"quantitative"},"x2":{"datum":4.42},"y":{"datum":4.57,"type":"quantitative"}}},
 {"data":{"name":"lbl"},"transform":[{"filter":"datum.r==7"}],"mark":{"type":"rule","color":"#888","strokeWidth":1.5},
  "encoding":{"x":{"datum":-1,"type":"quantitative"},"x2":{"datum":4.42},"y":{"datum":7.54,"type":"quantitative"}}},
 {"data":{"name":"lbl"},"transform":[{"filter":"datum.r==0"}],"mark":{"type":"text","baseline":"middle","fontSize":9,"fontWeight":"bold","color":"#222"},
  "encoding":{"x":{"datum":1.75,"type":"quantitative"},"y":{"datum":9.35,"type":"quantitative"},"text":{"value":"(A)"}}}
]},
{"width":64,"height":186,"view":{"stroke":null},"data":{"name":"tbl"},"transform":[{"filter":"datum.b=='A'&&datum.p==2"}],"mark":{"type":"text","baseline":"middle","fontSize":7.5},
  "encoding":{"x":{"datum":0.5,"type":"quantitative","scale":{"domain":[0,1],"nice":false,"zero":false},"axis":null},
  "y":{"field":"r","type":"quantitative","scale":{"domain":[-0.99,9.55],"reverse":true,"nice":false,"zero":false},"axis":null},
  "text":{"field":"v"},
  "color":{"condition":[{"test":"datum.g=='Small'","value":"#3b3bc4"},{"test":"datum.g=='Medium'","value":"#2c8a2c"},{"test":"datum.g=='Large'","value":"#cc2b2b"}],"value":"#222222"}}},
{"width":64,"height":186,"view":{"stroke":null},"data":{"name":"tbl"},"transform":[{"filter":"datum.b=='A'&&datum.p==3"}],"mark":{"type":"text","baseline":"middle","fontSize":7.5},
  "encoding":{"x":{"datum":0.5,"type":"quantitative","scale":{"domain":[0,1],"nice":false,"zero":false},"axis":null},
  "y":{"field":"r","type":"quantitative","scale":{"domain":[-0.99,9.55],"reverse":true,"nice":false,"zero":false},"axis":null},
  "text":{"field":"v"},
  "color":{"condition":[{"test":"datum.g=='Small'","value":"#3b3bc4"},{"test":"datum.g=='Medium'","value":"#2c8a2c"},{"test":"datum.g=='Large'","value":"#cc2b2b"}],"value":"#222222"}}},
{"width":64,"height":186,"view":{"stroke":null},"data":{"name":"tbl"},"transform":[{"filter":"datum.b=='A'&&datum.p==4"}],"mark":{"type":"text","baseline":"middle","fontSize":7.5},
  "encoding":{"x":{"datum":0.5,"type":"quantitative","scale":{"domain":[0,1],"nice":false,"zero":false},"axis":null},
  "y":{"field":"r","type":"quantitative","scale":{"domain":[-0.99,9.55],"reverse":true,"nice":false,"zero":false},"axis":null},
  "text":{"field":"v"},
  "color":{"condition":[{"test":"datum.g=='Small'","value":"#3b3bc4"},{"test":"datum.g=='Medium'","value":"#2c8a2c"},{"test":"datum.g=='Large'","value":"#cc2b2b"}],"value":"#222222"}}},
{"width":64,"height":63,"view":{"stroke":"#888"},"layer":[
 {"data":{"name":"lines"},"transform":[{"filter":"datum.b=='B'&&datum.p==1"}],"mark":{"type":"line","strokeWidth":1},
  "encoding":{"x":{"field":"t","type":"quantitative","scale":{"domain":[0,5],"nice":false},"axis":{"title":"Time (min)","values":[0,1,2,3,4,5],"labelExpr":"datum.value==0||datum.value==5?datum.label:''","labelFlush":false,"labelOverlap":false,"labelBaseline":"middle","labelPadding":1.5,"titlePadding":3}},
  "y":{"field":"v","type":"quantitative","scale":{"domain":[0,3],"nice":false},"axis":{"title":["Laser scattering","intensity (× 10² V)"],"values":[0,1,2,3],"labelPadding":0.5,"titlePadding":9,"titleLineHeight":7.5}},
  "color":{"field":"s","type":"nominal","scale":{"domain":["Small","Medium","Large"],"range":["#6868dc","#44c444","#e04a4a"]},"legend":null}}},
 {"data":{"name":"trans"},"transform":[{"filter":"datum.b=='B'&&datum.p==1"}],"mark":{"type":"line","strokeWidth":1,"color":"#333"},
  "encoding":{"x":{"field":"t","type":"quantitative","scale":{"domain":[0,5],"nice":false},"axis":{"title":"Time (min)","values":[0,1,2,3,4,5],"labelExpr":"datum.value==0||datum.value==5?datum.label:''","labelFlush":false,"labelOverlap":false,"labelBaseline":"middle","labelPadding":1.5,"titlePadding":3}},
  "y":{"field":"v","type":"quantitative","scale":{"domain":[-20,120],"nice":false},"axis":{"orient":"right","title":null,"labels":false,"values":[-20,0,20,40,60,80,100,120]}}}}
],"resolve":{"scale":{"y":"independent"}}},
{"width":64,"height":63,"view":{"stroke":"#888"},"layer":[
 {"data":{"name":"lines"},"transform":[{"filter":"datum.b=='B'&&datum.p==2"}],"mark":{"type":"line","strokeWidth":1},
  "encoding":{"x":{"field":"t","type":"quantitative","scale":{"domain":[0,5],"nice":false},"axis":{"title":"Time (min)","values":[0,1,2,3,4,5],"labelExpr":"datum.value==0||datum.value==5?datum.label:''","labelFlush":false,"labelOverlap":false,"labelBaseline":"middle","labelPadding":1.5,"titlePadding":3}},
  "y":{"field":"v","type":"quantitative","scale":{"domain":[0,3],"nice":false},"axis":{"title":null,"labels":false,"values":[0,1,2,3]}},
  "color":{"field":"s","type":"nominal","scale":{"domain":["Small","Medium","Large"],"range":["#6868dc","#44c444","#e04a4a"]},"legend":null}}},
 {"data":{"name":"trans"},"transform":[{"filter":"datum.b=='B'&&datum.p==2"}],"mark":{"type":"line","strokeWidth":1,"color":"#333"},
  "encoding":{"x":{"field":"t","type":"quantitative","scale":{"domain":[0,5],"nice":false},"axis":{"title":"Time (min)","values":[0,1,2,3,4,5],"labelExpr":"datum.value==0||datum.value==5?datum.label:''","labelFlush":false,"labelOverlap":false,"labelBaseline":"middle","labelPadding":1.5,"titlePadding":3}},
  "y":{"field":"v","type":"quantitative","scale":{"domain":[-20,120],"nice":false},"axis":{"orient":"right","title":null,"labels":false,"values":[-20,0,20,40,60,80,100,120]}}}}
],"resolve":{"scale":{"y":"independent"}}},
{"width":64,"height":63,"view":{"stroke":"#888"},"layer":[
 {"data":{"name":"lines"},"transform":[{"filter":"datum.b=='B'&&datum.p==3"}],"mark":{"type":"line","strokeWidth":1},
  "encoding":{"x":{"field":"t","type":"quantitative","scale":{"domain":[0,5],"nice":false},"axis":{"title":"Time (min)","values":[0,1,2,3,4,5],"labelExpr":"datum.value==0||datum.value==5?datum.label:''","labelFlush":false,"labelOverlap":false,"labelBaseline":"middle","labelPadding":1.5,"titlePadding":3}},
  "y":{"field":"v","type":"quantitative","scale":{"domain":[0,3],"nice":false},"axis":{"title":null,"labels":false,"values":[0,1,2,3]}},
  "color":{"field":"s","type":"nominal","scale":{"domain":["Small","Medium","Large"],"range":["#6868dc","#44c444","#e04a4a"]},"legend":null}}},
 {"data":{"name":"trans"},"transform":[{"filter":"datum.b=='B'&&datum.p==3"}],"mark":{"type":"line","strokeWidth":1,"color":"#333"},
  "encoding":{"x":{"field":"t","type":"quantitative","scale":{"domain":[0,5],"nice":false},"axis":{"title":"Time (min)","values":[0,1,2,3,4,5],"labelExpr":"datum.value==0||datum.value==5?datum.label:''","labelFlush":false,"labelOverlap":false,"labelBaseline":"middle","labelPadding":1.5,"titlePadding":3}},
  "y":{"field":"v","type":"quantitative","scale":{"domain":[-20,120],"nice":false},"axis":{"orient":"right","title":null,"labels":false,"values":[-20,0,20,40,60,80,100,120]}}}}
],"resolve":{"scale":{"y":"independent"}}},
{"width":64,"height":63,"view":{"stroke":"#888"},"layer":[
 {"data":{"name":"lines"},"transform":[{"filter":"datum.b=='B'&&datum.p==4"}],"mark":{"type":"line","strokeWidth":1},
  "encoding":{"x":{"field":"t","type":"quantitative","scale":{"domain":[0,5],"nice":false},"axis":{"title":"Time (min)","values":[0,1,2,3,4,5],"labelExpr":"datum.value==0||datum.value==5?datum.label:''","labelFlush":false,"labelOverlap":false,"labelBaseline":"middle","labelPadding":1.5,"titlePadding":3}},
  "y":{"field":"v","type":"quantitative","scale":{"domain":[0,3],"nice":false},"axis":{"title":null,"labels":false,"values":[0,1,2,3]}},
  "color":{"field":"s","type":"nominal","scale":{"domain":["Small","Medium","Large"],"range":["#6868dc","#44c444","#e04a4a"]},"legend":null}}},
 {"data":{"name":"trans"},"transform":[{"filter":"datum.b=='B'&&datum.p==4"}],"mark":{"type":"line","strokeWidth":1,"color":"#333"},
  "encoding":{"x":{"field":"t","type":"quantitative","scale":{"domain":[0,5],"nice":false},"axis":{"title":"Time (min)","values":[0,1,2,3,4,5],"labelExpr":"datum.value==0||datum.value==5?datum.label:''","labelFlush":false,"labelOverlap":false,"labelBaseline":"middle","labelPadding":1.5,"titlePadding":3}},
  "y":{"field":"v","type":"quantitative","scale":{"domain":[-20,120],"nice":false},"axis":{"orient":"right","title":"% transmittance","values":[-20,0,20,40,60,80,100,120],"labelExpr":"datum.value==0||datum.value==120?datum.label:''","labelOverlap":false,"labelPadding":0.5,"titlePadding":3}}}}
],"resolve":{"scale":{"y":"independent"}}},
{"width":64,"height":186,"view":{"stroke":null},"layer":[
 {"data":{"name":"tbl"},"transform":[{"filter":"datum.b=='B'&&datum.p==1"}],"mark":{"type":"text","baseline":"middle","fontSize":7.5},
  "encoding":{"x":{"datum":0.5,"type":"quantitative","scale":{"domain":[0,1],"nice":false,"zero":false},"axis":null},
  "y":{"field":"r","type":"quantitative","scale":{"domain":[-0.87,9.61],"reverse":true,"nice":false,"zero":false},"axis":null},
  "text":{"field":"v"},
  "color":{"condition":[{"test":"datum.g=='Small'","value":"#3b3bc4"},{"test":"datum.g=='Medium'","value":"#2c8a2c"},{"test":"datum.g=='Large'","value":"#cc2b2b"}],"value":"#222222"}}},
 {"data":{"name":"lbl"},"mark":{"type":"text","baseline":"middle","align":"right","fontSize":7.5},
  "encoding":{"x":{"datum":-0.047,"type":"quantitative"},"y":{"field":"r","type":"quantitative"},"text":{"field":"l"},
  "color":{"condition":[{"test":"datum.g=='Small'","value":"#3b3bc4"},{"test":"datum.g=='Medium'","value":"#2c8a2c"},{"test":"datum.g=='Large'","value":"#cc2b2b"}],"value":"#222222"}}},
 {"data":{"name":"lbl"},"transform":[{"filter":"datum.r==4"}],"mark":{"type":"rule","color":"#888","strokeWidth":1.5},
  "encoding":{"x":{"datum":-1,"type":"quantitative"},"x2":{"datum":4.42},"y":{"datum":4.56,"type":"quantitative"}}},
 {"data":{"name":"lbl"},"transform":[{"filter":"datum.r==7"}],"mark":{"type":"rule","color":"#888","strokeWidth":1.5},
  "encoding":{"x":{"datum":-1,"type":"quantitative"},"x2":{"datum":4.42},"y":{"datum":7.55,"type":"quantitative"}}},
 {"data":{"name":"lbl"},"transform":[{"filter":"datum.r==0"}],"mark":{"type":"text","baseline":"middle","fontSize":9,"fontWeight":"bold","color":"#222"},
  "encoding":{"x":{"datum":1.75,"type":"quantitative"},"y":{"datum":9.13,"type":"quantitative"},"text":{"value":"(B)"}}}
]},
{"width":64,"height":186,"view":{"stroke":null},"data":{"name":"tbl"},"transform":[{"filter":"datum.b=='B'&&datum.p==2"}],"mark":{"type":"text","baseline":"middle","fontSize":7.5},
  "encoding":{"x":{"datum":0.5,"type":"quantitative","scale":{"domain":[0,1],"nice":false,"zero":false},"axis":null},
  "y":{"field":"r","type":"quantitative","scale":{"domain":[-0.87,9.61],"reverse":true,"nice":false,"zero":false},"axis":null},
  "text":{"field":"v"},
  "color":{"condition":[{"test":"datum.g=='Small'","value":"#3b3bc4"},{"test":"datum.g=='Medium'","value":"#2c8a2c"},{"test":"datum.g=='Large'","value":"#cc2b2b"}],"value":"#222222"}}},
{"width":64,"height":186,"view":{"stroke":null},"data":{"name":"tbl"},"transform":[{"filter":"datum.b=='B'&&datum.p==3"}],"mark":{"type":"text","baseline":"middle","fontSize":7.5},
  "encoding":{"x":{"datum":0.5,"type":"quantitative","scale":{"domain":[0,1],"nice":false,"zero":false},"axis":null},
  "y":{"field":"r","type":"quantitative","scale":{"domain":[-0.87,9.61],"reverse":true,"nice":false,"zero":false},"axis":null},
  "text":{"field":"v"},
  "color":{"condition":[{"test":"datum.g=='Small'","value":"#3b3bc4"},{"test":"datum.g=='Medium'","value":"#2c8a2c"},{"test":"datum.g=='Large'","value":"#cc2b2b"}],"value":"#222222"}}},
{"width":64,"height":186,"view":{"stroke":null},"data":{"name":"tbl"},"transform":[{"filter":"datum.b=='B'&&datum.p==4"}],"mark":{"type":"text","baseline":"middle","fontSize":7.5},
  "encoding":{"x":{"datum":0.5,"type":"quantitative","scale":{"domain":[0,1],"nice":false,"zero":false},"axis":null},
  "y":{"field":"r","type":"quantitative","scale":{"domain":[-0.87,9.61],"reverse":true,"nice":false,"zero":false},"axis":null},
  "text":{"field":"v"},
  "color":{"condition":[{"test":"datum.g=='Small'","value":"#3b3bc4"},{"test":"datum.g=='Medium'","value":"#2c8a2c"},{"test":"datum.g=='Large'","value":"#cc2b2b"}],"value":"#222222"}}}
]
}
